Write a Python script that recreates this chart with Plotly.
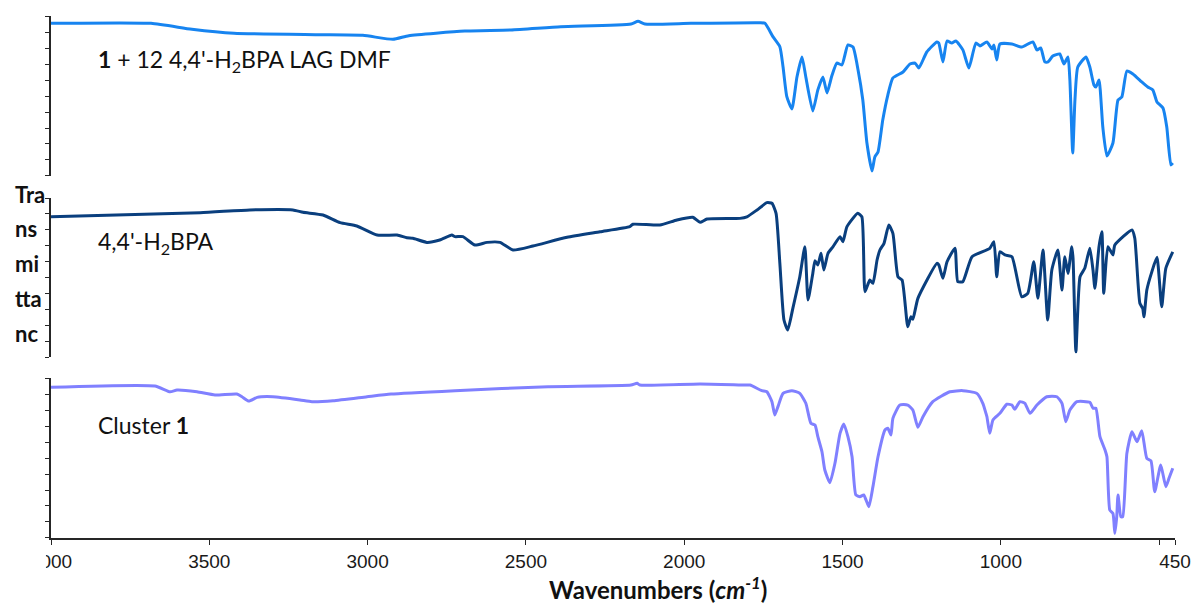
import plotly.graph_objects as go

# ---------------- data (wavenumber cm-1, relative transmittance %) ----------------
wn_lag = [4000, 3684, 3555, 3422, 3160, 3015, 2920, 2870, 2693, 2547,
          2390, 2168, 2146, 2124, 1979, 1761,
          1745, 1720, 1698, 1688, 1676, 1660, 1644, 1628, 1616, 1594,
          1578, 1562, 1549, 1534, 1518, 1502, 1483, 1467, 1451, 1436,
          1423, 1407, 1398, 1388, 1373, 1357, 1341, 1309, 1287, 1271,
          1259, 1234, 1202, 1196, 1183, 1170, 1155, 1142, 1120, 1101,
          1079, 1066, 1044, 1028, 1022, 1013, 1003, 965, 934, 899,
          886, 874, 861, 851, 836, 814, 801, 788, 782, 773,
          766, 757, 731, 719, 706, 700, 690, 678, 665, 646,
          630, 618, 602, 583, 555, 536, 520, 507, 488, 476,
          463, 457]
t_lag = [95.4, 95.4, 91.7, 89.2, 88.3, 87.9, 85.4, 87.7, 90.6, 91.3,
         93.3, 95.0, 96.7, 95.0, 95.4, 95.8,
         95.4, 87.1, 80.8, 68.3, 49.6, 41.9, 61.9, 74.4, 61.9, 40.6,
         53.8, 61.9, 51.9, 62.5, 70.6, 69.4, 81.9, 80.6, 66.3, 47.5,
         20.6, 3.1, 11.9, 15.0, 35.0, 50.6, 61.3, 65.0, 70.0, 70.6,
         67.5, 77.5, 83.8, 83.1, 71.3, 84.4, 83.1, 84.4, 78.8, 67.5,
         83.1, 81.3, 83.8, 79.4, 81.9, 72.5, 82.5, 82.5, 80.6, 83.8,
         78.8, 80.0, 71.3, 71.3, 75.0, 76.3, 70.0, 74.4, 60.0, 14.4,
         47.5, 68.1, 74.4, 68.1, 56.9, 55.6, 60.0, 30.6, 12.5, 20.6,
         47.5, 49.4, 65.6, 63.8, 58.8, 55.6, 53.8, 46.3, 42.5, 30.6,
         6.9, 8.1]

wn_bpa = [4000, 3529, 3372, 3236, 3204, 3141, 3087, 3034, 2970, 2907,
          2876, 2857, 2813, 2772, 2734, 2724, 2699, 2661, 2623, 2582,
          2541, 2478, 2370, 2266, 2172, 2162, 2077, 2023, 1973, 1950,
          1928, 1824, 1802, 1770, 1739, 1723, 1710, 1698, 1685, 1673,
          1657, 1635, 1619, 1609, 1594, 1587, 1578, 1568, 1559, 1546,
          1530, 1508, 1499, 1486, 1452, 1439, 1429, 1414, 1404, 1391,
          1382, 1369, 1354, 1341, 1325, 1312, 1294, 1284, 1278, 1262,
          1202, 1196, 1183, 1170, 1145, 1136, 1120, 1091, 1035, 1022,
          1013, 1003, 987, 965, 934, 915, 896, 883, 867, 852,
          839, 820, 807, 798, 788, 776, 772, 763, 750, 735,
          719, 709, 703, 690, 681, 675, 662, 646, 640, 586,
          577, 561, 552, 548, 539, 523, 507, 492, 479, 457]
t_bpa = [88.2, 90.8, 92.5, 92.5, 91.0, 89.3, 84.5, 82.4, 76.7, 76.7,
         75.0, 74.7, 72.1, 73.6, 76.7, 75.7, 75.7, 70.4, 72.1, 72.1,
         67.3, 69.8, 75.3, 78.8, 82.0, 83.5, 83.0, 86.2, 87.9, 84.7,
         86.8, 87.2, 88.2, 92.5, 97.1, 96.7, 90.4, 58.9, 23.3, 17.0,
         30.6, 50.5, 69.4, 35.9, 52.6, 60.6, 57.9, 65.2, 54.7, 65.2,
         69.4, 75.7, 72.5, 82.0, 90.4, 88.2, 41.1, 48.4, 46.4, 61.0,
         67.3, 71.5, 83.0, 77.8, 50.5, 48.4, 19.1, 25.3, 23.7, 36.9,
         58.9, 57.9, 49.5, 59.9, 68.4, 47.4, 47.4, 63.1, 68.4, 72.5,
         50.5, 66.2, 64.2, 63.1, 37.9, 40.1, 59.9, 36.9, 67.3, 23.3,
         54.7, 67.3, 42.1, 63.1, 52.6, 69.4, 62.1, 3.3, 50.5, 55.8,
         68.4, 54.7, 43.2, 69.4, 78.8, 40.1, 69.4, 64.2, 70.4, 79.9,
         74.7, 33.8, 30.6, 25.3, 42.1, 53.7, 62.7, 31.6, 55.8, 66.2]

wn_cl = [4000, 3672, 3624, 3602, 3539, 3482, 3413, 3397, 3375, 3349,
         3299, 3214, 3176, 3109, 3002, 2926, 2724, 2430, 2168, 2149,
         2140, 1950, 1805, 1792, 1755, 1739, 1723, 1714, 1704, 1688,
         1660, 1635, 1616, 1600, 1587, 1578, 1565, 1556, 1540, 1524,
         1508, 1496, 1483, 1470, 1458, 1445, 1433, 1417, 1404, 1388,
         1366, 1357, 1347, 1341, 1319, 1294, 1278, 1262, 1246, 1215,
         1161, 1120, 1076, 1057, 1047, 1044, 1035, 1025, 1003, 981,
         965, 956, 940, 924, 908, 886, 855, 823, 807, 795,
         782, 760, 719, 709, 700, 687, 671, 665, 656, 646,
         640, 634, 630, 621, 615, 602, 586, 570, 555, 539,
         526, 514, 495, 479, 469, 457]
t_cl = [94.2, 95.0, 91.4, 92.5, 91.4, 89.4, 90.0, 88.3, 85.6, 87.9,
        88.3, 86.3, 85.2, 85.8, 88.3, 90.0, 92.1, 94.6, 95.6, 96.7,
        95.6, 96.3, 95.6, 95.6, 92.1, 91.4, 85.2, 76.9, 82.1, 90.4,
        92.1, 90.4, 84.2, 71.7, 70.6, 63.3, 53.9, 42.5, 34.6, 46.7,
        65.4, 71.3, 63.3, 50.8, 26.9, 25.8, 26.9, 19.6, 32.1, 50.8,
        67.5, 68.6, 64.4, 74.8, 83.1, 83.1, 80.0, 69.2, 75.8, 85.2,
        91.4, 92.1, 90.4, 84.2, 77.9, 75.8, 65.4, 73.8, 77.9, 83.6,
        83.1, 80.4, 85.2, 84.2, 77.9, 83.1, 88.3, 88.3, 84.2, 72.7,
        80.0, 85.2, 84.8, 81.1, 81.1, 63.3, 55.0, 50.8, 17.5, 15.4,
        2.9, 13.3, 26.9, 13.3, 13.3, 52.9, 66.4, 60.2, 67.1, 49.8,
        48.3, 28.9, 45.6, 32.1, 37.3, 43.6]

x_tickvals = [4000, 3500, 3000, 2500, 2000, 1500, 1000, 500, 450]
x_ticktext = ["4000", "3500", "3000", "2500", "2000", "1500", "1000", "", "450"]

labels = ["<b>1</b> + 12 4,4'-H<sub>2</sub>BPA LAG DMF", "4,4'-H<sub>2</sub>BPA", "Cluster <b>1</b>"]
ytitle_parts = ["Tra", "ns", "mi", "tta", "nc"]

colors = ["#1784F0", "#0A3F7E", "#8080FF"]

# ---------------- figure ----------------
fig = go.Figure()
for xs, ys, col, ya in [(wn_lag, t_lag, colors[0], "y"),
                        (wn_bpa, t_bpa, colors[1], "y2"),
                        (wn_cl, t_cl, colors[2], "y3")]:
    fig.add_trace(go.Scatter(x=xs, y=ys, mode="lines",
                             line=dict(color=col, width=3, shape="spline", smoothing=0.5),
                             xaxis="x", yaxis=ya, showlegend=False))

axis_col = "#262626"
yax = dict(range=[0, 100], dtick=10, tick0=0, ticks="outside", ticklen=4, tickwidth=1.3,
           tickcolor=axis_col, showticklabels=False, showline=True, linecolor=axis_col,
           linewidth=1.5, showgrid=False, zeroline=False, anchor="x", fixedrange=True,
           automargin=False)

fig.update_layout(
    width=1197, height=607,
    margin=dict(l=51, r=22, t=16, b=69, autoexpand=False),
    paper_bgcolor="white", plot_bgcolor="white",
    xaxis=dict(range=[4000, 450], anchor="y3", tickvals=x_tickvals, ticktext=x_ticktext,
               ticks="outside", ticklen=5, tickwidth=1.3, tickcolor=axis_col,
               showline=True, linecolor=axis_col, linewidth=1.5, showgrid=False, zeroline=False,
               automargin=False,
               tickfont=dict(family="Liberation Sans, Arial", size=19, color="#1a1a1a")),
    yaxis=dict(yax, domain=[0.6935, 1.0]),
    yaxis2=dict(yax, domain=[0.3467, 0.6513]),
    yaxis3=dict(yax, domain=[0.0, 0.3065]),
)

# white box hiding the left part of the first tick label (as in the source)
fig.add_shape(type="rect", xref="paper", yref="paper", x0=-0.05, x1=-0.0045, y0=-0.13, y1=-0.012,
              fillcolor="white", line=dict(width=0), layer="above")

label_font = dict(family="Lato, Carlito, Calibri", size=23, color="#111111")
for txt, yc in zip(labels, [0.9157, 0.567, 0.2165]):
    fig.add_annotation(text=txt, xref="paper", yref="paper", x=0.040, y=yc,
                       xanchor="left", yanchor="middle", showarrow=False, font=label_font)

ytitle_y = [0.659, 0.592, 0.525, 0.458, 0.391]
for txt, yc in zip(ytitle_parts, ytitle_y):
    fig.add_annotation(text="<b>" + txt + "</b>", xref="paper", yref="paper", x=-0.0338, y=yc,
                       xanchor="left", yanchor="middle", showarrow=False,
                       font=dict(family="Lato, Carlito, Calibri", size=22, color="#111111"))

fig.add_annotation(text="<b>Wavenumbers (<i>cm</i><sup><i>-1</i></sup>)</b>", xref="paper", yref="paper",
                   x=0.540, y=-0.0958, xanchor="center", yanchor="middle", showarrow=False,
                   font=dict(family="Lato, Carlito, Calibri", size=24, color="#111111"))

fig.write_html("out.html", config={"displayModeBar": False},
               post_script="document.body.style.margin='0';document.body.style.padding='0';")
